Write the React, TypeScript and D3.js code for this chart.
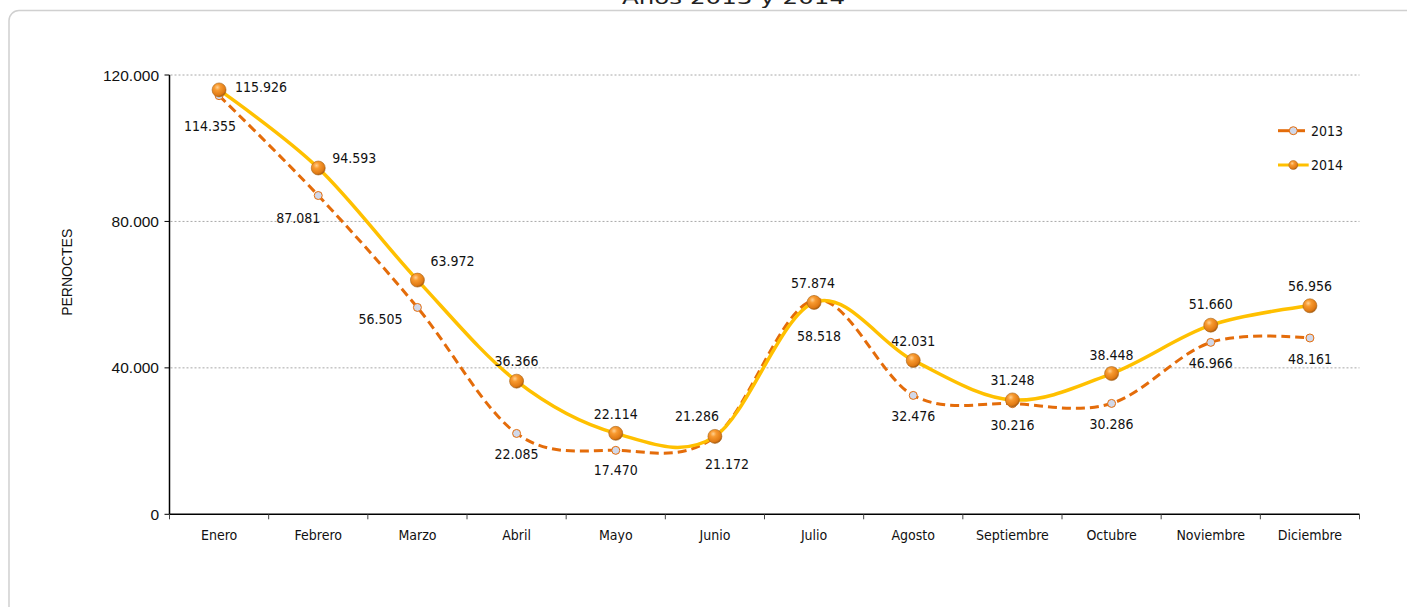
import React from 'react';
import * as d3 from 'd3';

const months = ['Enero', 'Febrero', 'Marzo', 'Abril', 'Mayo', 'Junio', 'Julio', 'Agosto', 'Septiembre', 'Octubre', 'Noviembre', 'Diciembre'];
const values2013 = [114355, 87081, 56505, 22085, 17470, 21172, 58518, 32476, 30216, 30286, 46966, 48161];
const values2014 = [115926, 94593, 63972, 36366, 22114, 21286, 57874, 42031, 31248, 38448, 51660, 56956];
const yTicks = [0, 40000, 80000, 120000];
const seriesNames = ['2013', '2014'];
const title = 'Años 2013 y 2014';
const yTitle = 'PERNOCTES';

// layout: data-label offsets (dx, dy) relative to each point
const labelOffsets2013: [number, number][] = [[-9, 30], [-20, 22], [-37, 12], [0, 21], [0, 20], [12, 27], [5, 36], [0, 21], [0, 21], [0, 21], [0, 21], [0, 21]];
const labelOffsets2014: [number, number][] = [[42, -3], [36, -10], [35, -19], [0, -20], [0, -19], [-18, -20], [-1, -19], [0, -19], [0, -20], [0, -19], [0, -21], [0, -20]];

const W = 1407;
const H = 607;
const labelFont = "'DejaVu Sans Condensed', 'DejaVu Sans', sans-serif";
const axisFont = "'Liberation Sans', Arial, sans-serif";

const locale = d3.formatLocale({ decimal: ',', thousands: '.', grouping: [3], currency: ['', ''] });
const fmt = locale.format(',d');

export default function App() {
  const x = d3.scaleBand<string>().domain(months).range([169.5, 1359.5]);
  const y = d3.scaleLinear().domain([0, 120000]).range([514.3, 75]);
  const bw = x.bandwidth();
  const cx = (m: string) => (x(m) as number) + bw / 2;

  const line = d3
    .line<number>()
    .x((_, i) => cx(months[i]))
    .y((v) => y(v))
    .curve(d3.curveCatmullRom.alpha(0));

  const xEnd = 1359.5;
  const x0 = 169.5;

  return (
    <svg width={W} height={H} style={{ position: 'absolute', left: 0, top: 0, background: '#fff' }}>
      <defs>
        <radialGradient id="sphere" cx="0.38" cy="0.32" r="0.72">
          <stop offset="0" stopColor="#ffd090" />
          <stop offset="0.3" stopColor="#f89a30" />
          <stop offset="0.78" stopColor="#e07a14" />
          <stop offset="1" stopColor="#9c540e" />
        </radialGradient>
      </defs>
      <text x={733.5} y={3.5} textAnchor="middle" fontFamily={labelFont} fontSize={18} textLength={223} lengthAdjust="spacingAndGlyphs" fill="#222">
        {title}
      </text>
      <rect x={9} y={10.5} width={1440} height={640} rx={10} ry={10} fill="none" stroke="#d0d0d0" strokeWidth={1.5} />

      {/* gridlines */}
      {yTicks.filter((t) => t > 0).map((t) => (
        <line key={'g' + t} x1={x0 + 1} x2={xEnd} y1={y(t)} y2={y(t)} stroke="#a8a8a8" strokeWidth={1} strokeDasharray="2,2" />
      ))}

      {/* y axis */}
      <line x1={x0} x2={x0} y1={y(120000)} y2={y(0)} stroke="#000" strokeWidth={1.5} />
      {yTicks.map((t) => (
        <g key={'yt' + t}>
          <line x1={x0 - 5} x2={x0} y1={y(t)} y2={y(t)} stroke="#000" strokeWidth={1} />
          <text x={159} y={y(t)} textAnchor="end" dominantBaseline="central" fontFamily={axisFont} fontSize={15.5} fill="#111">
            {fmt(t)}
          </text>
        </g>
      ))}
      <text
        transform={`translate(66.7,272.3) rotate(-90)`}
        textAnchor="middle"
        dominantBaseline="central"
        fontFamily={axisFont}
        fontSize={14}
        fill="#111"
      >
        {yTitle}
      </text>

      {/* x axis */}
      <line x1={x0} x2={xEnd} y1={y(0)} y2={y(0)} stroke="#000" strokeWidth={1.5} />
      {months.map((m) => (
        <line key={'xt' + m} x1={x(m) as number} x2={x(m) as number} y1={y(0)} y2={y(0) + 5} stroke="#444" strokeWidth={1} />
      ))}
      <line x1={xEnd} x2={xEnd} y1={y(0)} y2={y(0) + 5} stroke="#444" strokeWidth={1} />
      {months.map((m) => (
        <text key={'xl' + m} x={cx(m)} y={535} textAnchor="middle" dominantBaseline="central" fontFamily={labelFont} fontStretch="condensed" fontSize={14} fill="#111">
          {m}
        </text>
      ))}

      {/* 2013 series */}
      <path d={line(values2013) || ''} fill="none" stroke="#e46c0a" strokeWidth={3} strokeDasharray="9,5" />
      {values2013.map((v, i) => (
        <circle key={'p13' + i} cx={cx(months[i])} cy={y(v)} r={4} fill="#d0d8ea" stroke="#e46c0a" strokeWidth={1} />
      ))}

      {/* 2014 series */}
      <path d={line(values2014) || ''} fill="none" stroke="#ffc000" strokeWidth={3.5} />
      {values2014.map((v, i) => (
        <circle key={'p14' + i} cx={cx(months[i])} cy={y(v)} r={7} fill="url(#sphere)" stroke="#a86418" strokeWidth={0.6} />
      ))}

      {/* data labels */}
      {values2013.map((v, i) => (
        <text key={'l13' + i} x={cx(months[i]) + labelOffsets2013[i][0]} y={y(v) + labelOffsets2013[i][1]} textAnchor="middle" dominantBaseline="central" fontFamily={labelFont} fontStretch="condensed" fontSize={14} fill="#111">
          {fmt(v)}
        </text>
      ))}
      {values2014.map((v, i) => (
        <text key={'l14' + i} x={cx(months[i]) + labelOffsets2014[i][0]} y={y(v) + labelOffsets2014[i][1]} textAnchor="middle" dominantBaseline="central" fontFamily={labelFont} fontStretch="condensed" fontSize={14} fill="#111">
          {fmt(v)}
        </text>
      ))}

      {/* legend */}
      <g>
        <line x1={1278} x2={1305} y1={130.7} y2={130.7} stroke="#e46c0a" strokeWidth={3} />
        <circle cx={1293.3} cy={130.7} r={4} fill="#d0d8ea" stroke="#e46c0a" strokeWidth={1} />
        <text x={1311} y={130.7} dominantBaseline="central" fontFamily={labelFont} fontStretch="condensed" fontSize={14} fill="#111">
          {seriesNames[0]}
        </text>
        <line x1={1278} x2={1308.7} y1={165} y2={165} stroke="#ffc000" strokeWidth={3} />
        <circle cx={1293.3} cy={165} r={4.5} fill="url(#sphere)" stroke="#a86418" strokeWidth={0.5} />
        <text x={1311} y={165} dominantBaseline="central" fontFamily={labelFont} fontStretch="condensed" fontSize={14} fill="#111">
          {seriesNames[1]}
        </text>
      </g>
    </svg>
  );
}
